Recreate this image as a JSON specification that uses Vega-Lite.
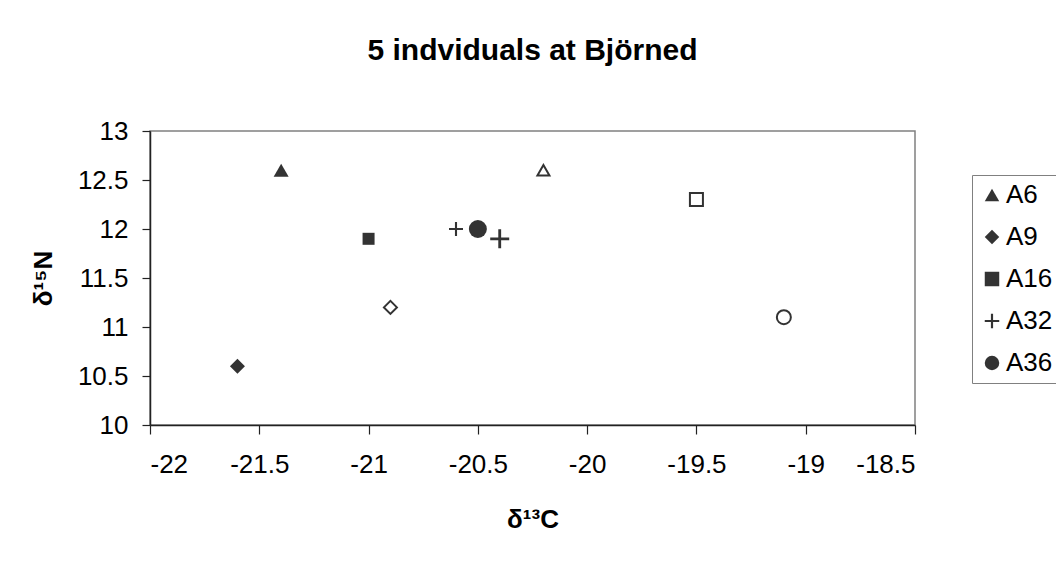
{
  "$schema": "https://vega.github.io/schema/vega-lite/v6.json",
  "width": 765,
  "height": 294,
  "autosize": {"type": "none"},
  "padding": {"left": 150, "top": 131, "right": 141, "bottom": 140},
  "background": "white",
  "title": {
    "text": "5 indviduals at Björned",
    "font": "Liberation Sans",
    "fontSize": 30,
    "fontWeight": "bold",
    "color": "#000",
    "anchor": "middle",
    "frame": "group",
    "baseline": "alphabetic",
    "offset": 28
  },
  "data": {
    "values": [
      {"individual": "A6", "kind": "filled", "d13C": -21.4, "d15N": 12.6},
      {"individual": "A9", "kind": "filled", "d13C": -21.6, "d15N": 10.6},
      {"individual": "A16", "kind": "filled", "d13C": -21.0, "d15N": 11.9},
      {"individual": "A32", "kind": "filled", "d13C": -20.6, "d15N": 12.0},
      {"individual": "A36", "kind": "filled", "d13C": -20.5, "d15N": 12.0},
      {"individual": "A6", "kind": "open", "d13C": -20.2, "d15N": 12.6},
      {"individual": "A9", "kind": "open", "d13C": -20.9, "d15N": 11.2},
      {"individual": "A16", "kind": "open", "d13C": -19.5, "d15N": 12.3},
      {"individual": "A32", "kind": "open", "d13C": -20.4, "d15N": 11.9},
      {"individual": "A36", "kind": "open", "d13C": -19.1, "d15N": 11.1}
    ]
  },
  "encoding": {
    "x": {
      "field": "d13C", "type": "quantitative",
      "scale": {"domain": [-22, -18.5], "nice": false, "zero": false},
      "axis": {
        "title": "δ¹³C",
        "values": [-22, -21.5, -21, -20.5, -20, -19.5, -19, -18.5],
        "labelExpr": "'' + datum.value",
        "grid": false,
        "tickSize": 9,
        "labelPadding": 17,
        "titlePadding": 29
      }
    },
    "y": {
      "field": "d15N", "type": "quantitative",
      "scale": {"domain": [10, 13], "nice": false, "zero": false},
      "axis": {
        "title": "δ¹⁵N",
        "values": [10, 10.5, 11, 11.5, 12, 12.5, 13],
        "labelExpr": "'' + datum.value",
        "grid": false,
        "tickSize": 8,
        "labelPadding": 14,
        "titlePadding": 21
      }
    }
  },
  "layer": [
    {
      "transform": [{"filter": "datum.kind === 'filled'"}],
      "mark": {"type": "point", "filled": true, "fill": "#333333", "strokeWidth": 0, "opacity": 1},
      "encoding": {
        "shape": {
          "field": "individual", "type": "nominal",
          "scale": {
            "domain": ["A6", "A9", "A16", "A32", "A36"],
            "range": ["triangle-up", "diamond", "square", "M-1,-0.15H-0.15V-1H0.15V-0.15H1V0.15H0.15V1H-0.15V0.15H-1Z", "circle"]
          },
          "legend": {
            "title": null,
            "orient": "none",
            "legendX": 822,
            "legendY": 44,
            "strokeColor": "#808080",
            "padding": 7,
            "labelFont": "Liberation Sans",
            "labelFontSize": 26,
            "labelColor": "#000",
            "labelOffset": 1,
            "rowPadding": 16,
            "symbolSize": 210,
            "symbolFillColor": "#333333"
          }
        },
        "size": {
          "condition": [
            {"test": "datum.individual === 'A16'", "value": 144},
            {"test": "datum.individual === 'A32'", "value": 196},
            {"test": "datum.individual === 'A36'", "value": 324}
          ],
          "value": 225
        }
      }
    },
    {
      "transform": [{"filter": "datum.kind === 'open'"}],
      "mark": {"type": "point", "filled": false, "stroke": "#333333", "opacity": 1},
      "encoding": {
        "shape": {
          "field": "individual", "type": "nominal"
        },
        "fill": {
          "condition": {"test": "datum.individual === 'A32'", "value": "#333333"},
          "value": "white"
        },
        "strokeWidth": {
          "condition": {"test": "datum.individual === 'A32'", "value": 0},
          "value": 2
        },
        "size": {
          "condition": [
            {"test": "datum.individual === 'A6'", "value": 144},
            {"test": "datum.individual === 'A32'", "value": 361},
            {"test": "datum.individual === 'A36'", "value": 196}
          ],
          "value": 169
        }
      }
    }
  ],
  "config": {
    "font": "Liberation Sans",
    "view": {"stroke": "#808080", "strokeWidth": 1.5},
    "axis": {
      "labelFont": "Liberation Sans",
      "labelFontSize": 26,
      "labelColor": "#000",
      "titleFont": "Liberation Sans",
      "titleFontSize": 26,
      "titleFontWeight": "bold",
      "titleColor": "#000",
      "domainColor": "#222",
      "domainWidth": 1.5,
      "tickColor": "#222",
      "tickWidth": 1.2
    }
  }
}
